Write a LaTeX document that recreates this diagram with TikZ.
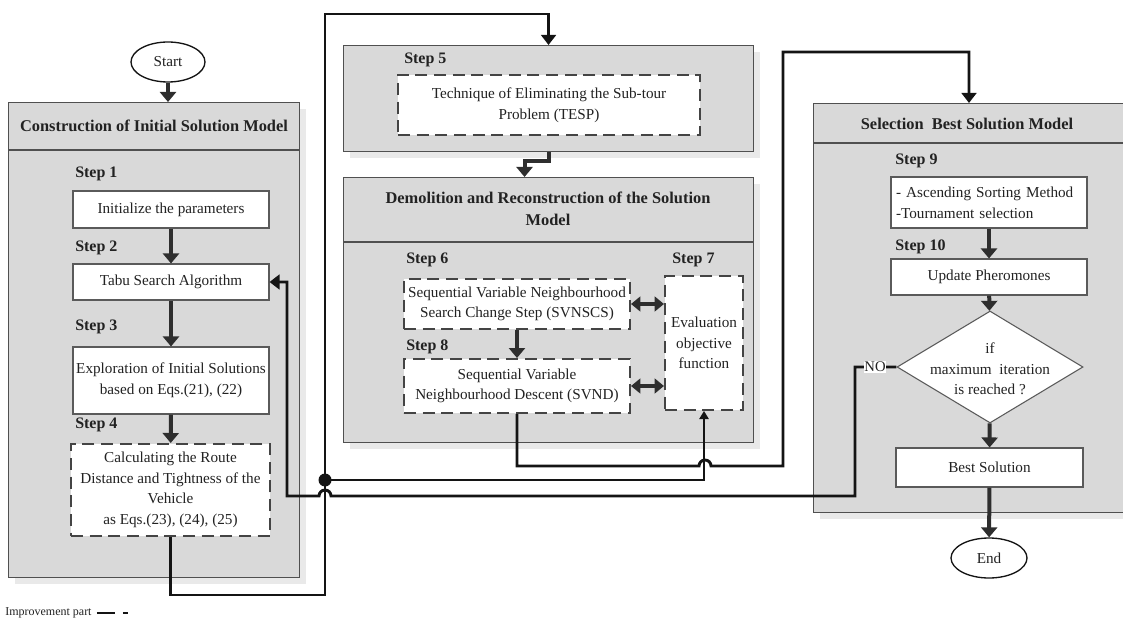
\documentclass[tikz,border=0pt]{standalone}
\usepackage{fontspec}
\setmainfont{Liberation Serif}
\usetikzlibrary{arrows.meta,shapes.geometric,shadows,calc}
\def\pxu{0.75pt}
\definecolor{panelfill}{HTML}{D9D9D9}
\definecolor{panelline}{HTML}{505050}
\definecolor{shadowc}{HTML}{E9E9E9}
\definecolor{boxline}{HTML}{5A5A5A}
\definecolor{dashline}{HTML}{444444}
\definecolor{txt}{HTML}{222222}
\definecolor{arrowc}{HTML}{2E2E2E}
\definecolor{connc}{HTML}{141414}
\begin{document}
\begin{tikzpicture}[x=0.75pt,y=-0.75pt,
  every node/.style={text=txt, font=\fontsize{11.4}{15.5}\selectfont},
  panel/.style={draw=panelline, fill=panelfill, line width=0.8pt, inner sep=0pt, anchor=north west,
    drop shadow={shadow xshift=5pt, shadow yshift=-5pt, fill=shadowc, opacity=1}},
  hdr/.style={font=\bfseries\fontsize{12.3}{16.5}\selectfont, align=center},
  steplabel/.style={font=\bfseries\fontsize{12}{14}\selectfont, anchor=west, inner sep=0pt},
  box/.style={draw=boxline, fill=white, line width=0.8pt, align=center, inner sep=2pt},
  dbox/.style={draw=dashline, fill=white, line width=1.5pt, dash pattern=on 9pt off 5pt, align=center, inner sep=2pt},
  iarrow/.style={draw=arrowc, line width=3pt, -{Triangle[width=12pt,length=7.5pt]}},
  darrow/.style={draw=arrowc, line width=2.6pt, {Triangle[width=11pt,length=7pt]}-{Triangle[width=11pt,length=7pt]}},
  conn/.style={draw=connc, line width=2.2pt, line join=miter, -{Triangle[width=11pt,length=7.5pt]}},
  thinconn/.style={draw=connc, line width=1.1pt, -{Triangle[width=7pt,length=6pt]}},
  term/.style={ellipse, draw=connc, fill=white, line width=1pt, inner sep=0pt},
]
\useasboundingbox (0,0) rectangle (1123,623);
\clip (0,0) rectangle (1123,623);

% ---------------- panels ----------------
\node[panel, minimum width=291*\pxu, minimum height=475*\pxu] (P1) at (8,102) {};
\draw[panelline, line width=0.8pt] (8,150) -- (299,150);
\node[hdr] (H1) at (154,126) {Construction of Initial Solution Model};

\node[panel, minimum width=410*\pxu, minimum height=106*\pxu] (P5) at (343,45) {};
\node[panel, minimum width=410*\pxu, minimum height=265*\pxu] (P6) at (343,177) {};
\draw[panelline, line width=0.8pt] (343,242) -- (753,242);
\node[hdr] (H6) at (548,209) {Demolition and Reconstruction of the Solution\\Model};

\node[panel, minimum width=315*\pxu, minimum height=409*\pxu] (P9) at (813,103) {};
\draw[panelline, line width=0.8pt] (813,143) -- (1128,143);
\node[hdr] (H9) at (967,124) {Selection\ \ Best Solution Model};

% ---------------- start ----------------
\node[term, minimum width=74*\pxu, minimum height=40*\pxu] (start) at (168,62) {Start};

% ---------------- left column ----------------
\node[steplabel] (s1) at (75,174) {Step 1};
\node[box, minimum width=196*\pxu, minimum height=37*\pxu] (init) at (171,209.5) {Initialize the parameters};
\node[steplabel] (s2) at (75,248) {Step 2};
\node[box, minimum width=196*\pxu, minimum height=36*\pxu] (tabu) at (171,282) {Tabu Search Algorithm};
\node[steplabel] (s3) at (75,327) {Step 3};
\node[box, minimum width=196*\pxu, minimum height=67*\pxu] (expl) at (171,380.5) {Exploration of Initial Solutions\\based on Eqs.(21), (22)};
\node[steplabel] (s4) at (75,425) {Step 4};
\node[dbox, minimum width=199*\pxu, minimum height=92*\pxu] (calc) at (170.5,490) {Calculating the Route\\Distance and Tightness of the\\Vehicle\\as Eqs.(23), (24), (25)};

% ---------------- middle column ----------------
\node[steplabel] (s5) at (404,60) {Step 5};
\node[dbox, minimum width=302*\pxu, minimum height=60*\pxu] (tesp) at (549,105) {Technique of Eliminating the Sub-tour\\Problem (TESP)};

\node[steplabel] (s6) at (406,260) {Step 6};
\node[dbox, minimum width=226*\pxu, minimum height=50*\pxu] (svnscs) at (517,304) {Sequential Variable Neighbourhood\\Search Change Step (SVNSCS)};
\node[steplabel] (s8) at (406,347) {Step 8};
\node[dbox, minimum width=226*\pxu, minimum height=54*\pxu] (svnd) at (517,386) {Sequential Variable\\Neighbourhood Descent (SVND)};
\node[steplabel] (s7) at (672,260) {Step 7};
\node[dbox, minimum width=78*\pxu, minimum height=134*\pxu, inner sep=0pt] (eval) at (704,343) {Evaluation\\objective\\function};

% ---------------- right column ----------------
\node[steplabel] (s9) at (895,161) {Step 9};
\node[box, minimum width=196*\pxu, minimum height=51*\pxu, align=left, text width=186*\pxu] (asc) at (989,202.5) {- Ascending Sorting Method\\-Tournament selection};
\node[steplabel] (s10) at (895,247) {Step 10};
\node[box, minimum width=196*\pxu, minimum height=36*\pxu] (upd) at (989,277) {Update Pheromones};
\node[diamond, draw=boxline, fill=white, line width=0.8pt, minimum width=186*\pxu, minimum height=112*\pxu, inner sep=0pt, aspect=1.66] (dec) at (990,367) {};
\node[align=center] (dect) at (990,369) {if\\maximum\ \ iteration\\is reached ?};
\node[box, minimum width=187*\pxu, minimum height=39*\pxu] (best) at (989.5,467.5) {Best Solution};
\node[term, minimum width=76*\pxu, minimum height=40*\pxu] (end) at (989,558) {End};

% ---------------- internal arrows ----------------
\draw[iarrow] (start) -- (start |- P1.north);
\draw[iarrow] (init) -- (tabu);
\draw[iarrow] (tabu) -- (expl);
\draw[iarrow] (expl) -- (calc);
\draw[iarrow] (P5.south) -- ++(0,9) -| ($(P6.north)+(-24,0)$);
\draw[iarrow] (svnscs) -- (svnd);
\draw[darrow] (svnscs.east) -- (svnscs.east -| eval.west);
\draw[darrow] (svnd.east) -- (svnd.east -| eval.west);
\draw[iarrow] (asc) -- (upd);
\draw[iarrow] (upd) -- (dec);
\draw[iarrow] (dec) -- (best);
\draw[iarrow] (best) -- (end);

% ---------------- connectors ----------------
\coordinate (c5a) at (325,595);
\coordinate (c5b) at (325,14);
\draw[conn] (calc.south) |- (c5a) -- (c5b) -| (P5.north);

\coordinate (j) at (325,480);
\draw[thinconn] (j) -| (eval.south);
\fill[connc] (j) circle[radius=6.5];

\coordinate (b7) at (699,466);
\coordinate (c7a) at (783,466);
\coordinate (c7b) at (783,52);
\draw[conn] (svnd.south) |- (b7) arc[start angle=180, end angle=360, radius=6] -- (c7a) -- (c7b) -| ($(P9.north west)+(156,0)$);

\coordinate (c8a) at (855,367);
\coordinate (c8b) at (855,496);
\coordinate (b8) at (331,496);
\coordinate (c8c) at (287,496);
\draw[conn] (dec.west) -- (c8a) -- (c8b) -- (b8) arc[start angle=0, end angle=-180, radius=6] -- (c8c) |- (tabu.east);
\node[fill=white, inner sep=0.5pt, font=\fontsize{11}{13}\selectfont] (no) at (875,367) {NO};

% ---------------- legend ----------------
\node[anchor=west, inner sep=0pt, font=\fontsize{9}{11}\selectfont] (leg) at (5,613) {Improvement part};
\draw[connc, line width=1pt] ($(leg.east)+(5,0)$) -- ++(18,0);
\draw[connc, line width=1pt] ($(leg.east)+(31,0)$) -- ++(5,0);
\end{tikzpicture}
\end{document}
